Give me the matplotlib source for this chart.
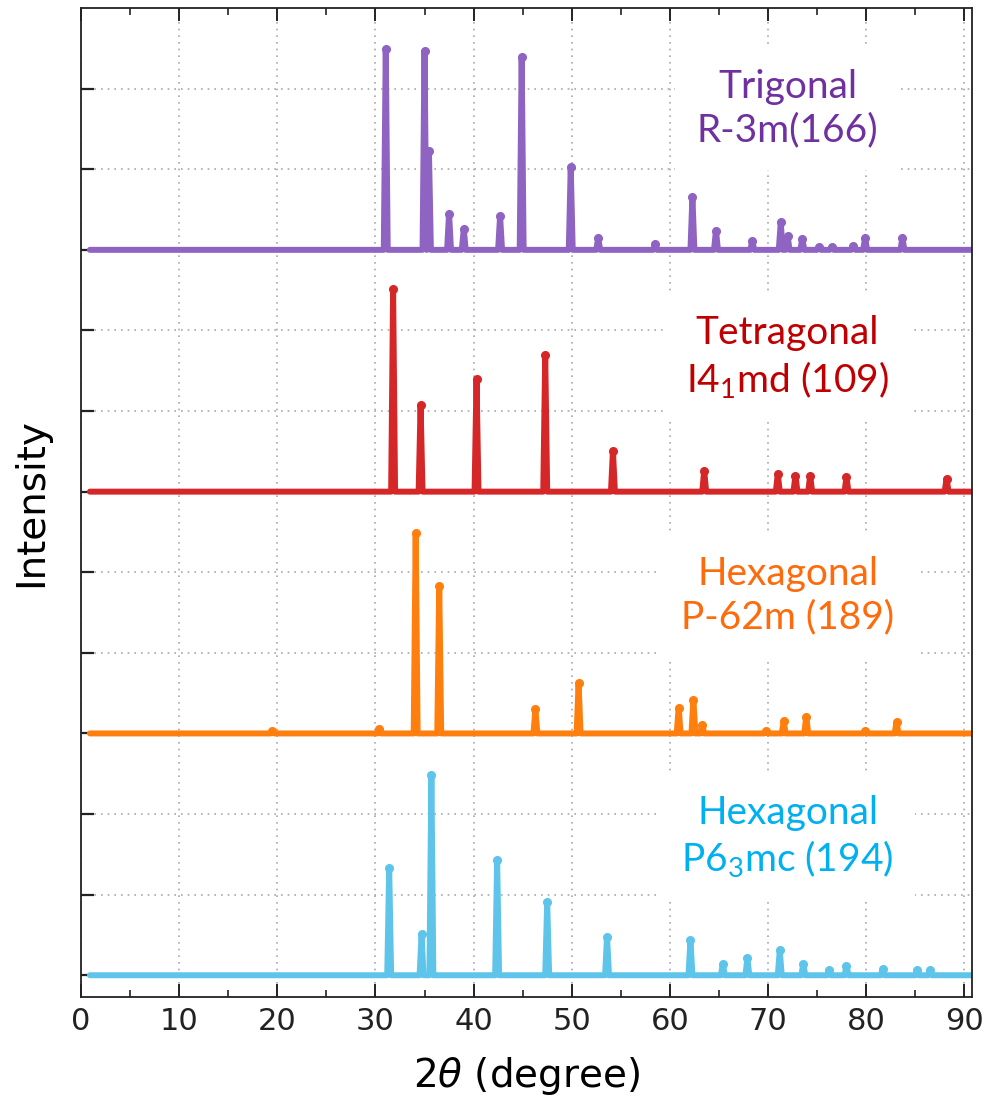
import matplotlib
matplotlib.use("Agg")
import matplotlib.pyplot as plt
from matplotlib.ticker import MultipleLocator

# ── peak lists (2θ in degree, height in grid units) ──────────────────────────
trig_pos = [31.05, 35.0, 35.45, 37.5, 39.0, 42.7, 44.9, 49.9, 52.7, 58.5,
            62.3, 64.7, 68.4, 71.3, 72.0, 73.5, 75.2, 76.5, 78.7, 79.9, 83.7]
trig_hgt = [2.49, 2.47, 1.23, 0.45, 0.26, 0.42, 2.39, 1.03, 0.15, 0.07,
            0.66, 0.24, 0.11, 0.34, 0.17, 0.14, 0.03, 0.03, 0.05, 0.15, 0.15]

tetr_pos = [31.8, 34.6, 40.3, 47.3, 54.2, 63.5, 71.0, 72.8, 74.3, 78.0, 88.2]
tetr_hgt = [2.51, 1.07, 1.40, 1.69, 0.51, 0.26, 0.22, 0.20, 0.20, 0.18, 0.16]

hexa_pos = [19.5, 30.4, 34.1, 36.5, 46.3, 50.7, 60.9, 62.4, 63.3, 69.8,
            71.6, 73.9, 79.9, 83.1]
hexa_hgt = [0.03, 0.06, 2.49, 1.83, 0.30, 0.63, 0.32, 0.42, 0.11, 0.03,
            0.15, 0.21, 0.03, 0.14]

hexb_pos = [31.4, 34.7, 35.7, 42.4, 47.5, 53.6, 62.1, 65.4, 67.9, 71.2,
            73.6, 76.2, 78.0, 81.7, 85.2, 86.5]
hexb_hgt = [1.33, 0.51, 2.49, 1.43, 0.91, 0.48, 0.44, 0.14, 0.21, 0.31,
            0.14, 0.06, 0.12, 0.08, 0.06, 0.07]

offsets = [9, 6, 3, 0]
labels = [
    "Trigonal\nR-3m(166)",
    "Tetragonal\nI4$_\\mathregular{1}$md (109)",
    "Hexagonal\nP-62m (189)",
    "Hexagonal\nP6$_\\mathregular{3}$mc (194)",
]

LINE_COLORS = ["#8e63c2", "#d62728", "#ff7f0e", "#5ec4ea"]
TEXT_COLORS = ["#7030a0", "#c00000", "#ff6a0a", "#00b0f0"]
LABEL_Y = [10.75, 7.66, 4.71, 1.71]

SCAN_START, SCAN_END = 0.9, 92.0
HALF_W = 0.2


def trace(pos, hgt, base):
    xs, ys = [SCAN_START], [base]
    for p, h in sorted(zip(pos, hgt)):
        xs += [p - HALF_W, p, p + HALF_W]
        ys += [base, base + h, base]
    xs.append(SCAN_END)
    ys.append(base)
    return xs, ys


fig = plt.figure(figsize=(9.86, 11.03), dpi=100)
ax = fig.add_axes([0.0822, 0.0961, 0.9037, 0.8966])

series = [(trig_pos, trig_hgt), (tetr_pos, tetr_hgt),
          (hexa_pos, hexa_hgt), (hexb_pos, hexb_hgt)]

for (pos, hgt), base, col in zip(series, offsets, LINE_COLORS):
    xs, ys = trace(pos, hgt, base)
    ax.plot(xs, ys, color=col, lw=4.3, solid_joinstyle="round",
            solid_capstyle="round", zorder=2)
    ax.plot(pos, [base + h for h in hgt], "o", color=col, ms=5.5,
            mec=col, zorder=2.5)

for txt, y, col in zip(labels, LABEL_Y, TEXT_COLORS):
    ax.text(72.0, y, txt, color=col, fontsize=28, family="Lato",
            ha="center", va="center", linespacing=1.25, multialignment="center",
            bbox=dict(boxstyle="square,pad=0.55", fc="white", ec="none"),
            zorder=3)

ax.set_xlim(0, 90.8)
ax.set_ylim(-0.27, 12.0)
ax.xaxis.set_major_locator(MultipleLocator(10))
ax.xaxis.set_minor_locator(MultipleLocator(5))
ax.set_yticks(range(0, 12))
ax.set_yticklabels([])

ax.tick_params(axis="x", which="both", direction="in", top=True, labelsize=22,
               pad=7, colors="#222222")
ax.tick_params(axis="x", which="major", length=9.5, width=1.4)
ax.tick_params(axis="x", which="minor", length=5, width=1.2)
ax.tick_params(axis="y", which="major", direction="in", length=9.5, width=1.6,
               right=False, labelleft=False, colors="#222222")

ax.grid(True, which="major", color="#a8a8a8", lw=1.2, ls=(0, (1, 3)))
ax.set_axisbelow(True)
for sp in ax.spines.values():
    sp.set_linewidth(1.3)
    sp.set_color("#222222")

ax.set_xlabel("2$\\theta$ (degree)", fontsize=28, labelpad=14)
ax.set_ylabel("Intensity", fontsize=28, labelpad=22)

fig.savefig("out.png", dpi=100)
